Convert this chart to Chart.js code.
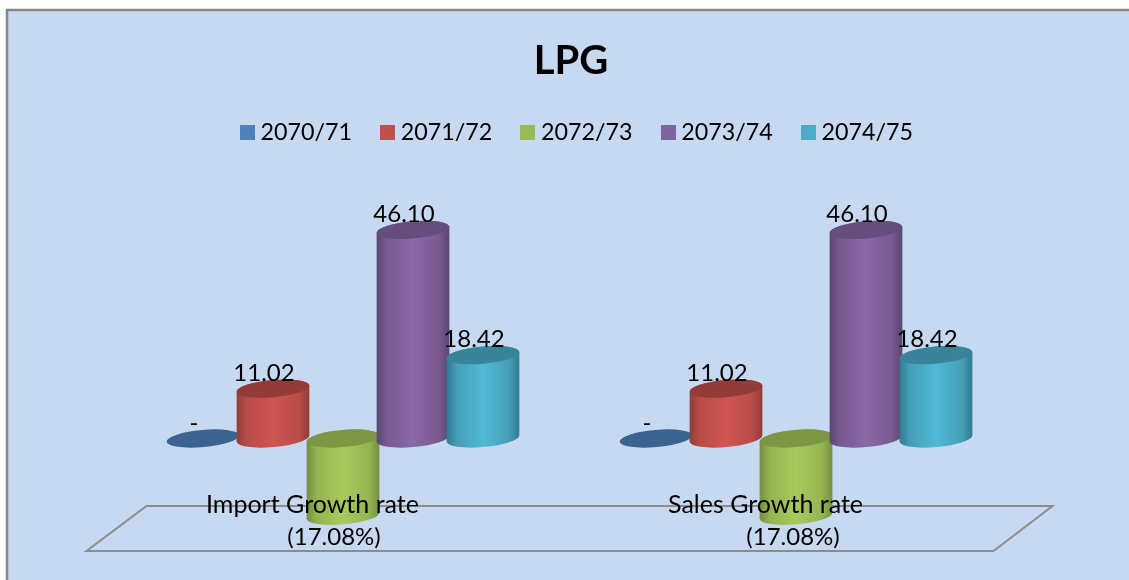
<!DOCTYPE html>
<html><head><meta charset="utf-8">
<style>html,body{margin:0;padding:0;background:#fff}canvas{display:block}</style>
<script src="https://cdn.jsdelivr.net/npm/chart.js@4"></script></head>
<body><canvas id="c" width="1129" height="580"></canvas>
<script>
const categories = ["Import Growth rate", "Sales Growth rate"];
const seriesNames = ["2070/71", "2071/72", "2072/73", "2073/74", "2074/75"];
const v2070 = [0, 0];
const v2071 = [11.02, 11.02];
const v2072 = [-17.08, -17.08];
const v2073 = [46.10, 46.10];
const v2074 = [18.42, 18.42];
const seriesValues = [v2070, v2071, v2072, v2073, v2074];
const legendColors = ["#4f81bd", "#c0504d", "#9bbb59", "#8064a2", "#4bacc6"];
const centerColors = ["#5a8fd0", "#d05551", "#a8ca5c", "#8a69aa", "#50bad6"];
const midColors    = ["#4c7bb0", "#b84c48", "#94b352", "#78598f", "#459eb6"];
const edgeColors   = ["#3b618e", "#8f3d3a", "#748d3e", "#5a4673", "#2f7a8e"];
const topColors    = ["#3b638f", "#933b38", "#7c9644", "#654d7e", "#3a8499"];
const negLabelShift = [-9, -3];
const FONT = "Lato, sans-serif";
const swatches = legendColors.map(col => {
  const s = document.createElement("canvas"); s.width = 15; s.height = 15;
  const g = s.getContext("2d"); g.fillStyle = col; g.fillRect(0, 0, 15, 15); return s;
});
const fmt = v => v === 0 ? "-" : v < 0 ? "(" + Math.abs(v).toFixed(2) + "%)" : v.toFixed(2);
const TILT = -5 * Math.PI / 180, RY = 8.6, WIDEN = 73 / 70;

function cylinder(ctx, cx, y0, y1, rx, i) {
  const up = Math.min(y0, y1), low = Math.max(y0, y1);
  if (low - up > 0.5) {
    const g = ctx.createLinearGradient(cx - rx, 0, cx + rx, 0);
    g.addColorStop(0, edgeColors[i]);
    g.addColorStop(0.14, midColors[i]);
    g.addColorStop(0.5, centerColors[i]);
    g.addColorStop(0.86, midColors[i]);
    g.addColorStop(1, edgeColors[i]);
    ctx.beginPath();
    ctx.ellipse(cx, low, rx, RY, TILT, 0, Math.PI, false);
    ctx.ellipse(cx, up, rx, RY, TILT, Math.PI, 0, false);
    ctx.closePath();
    ctx.fillStyle = g; ctx.fill();
  }
  ctx.beginPath();
  ctx.ellipse(cx, up, rx, RY, TILT, 0, Math.PI * 2);
  ctx.fillStyle = topColors[i]; ctx.fill();
}

const scene = {
  id: "scene",
  afterLayout(chart) {
    chart.legend.left += 10; chart.legend.right += 10;
    chart.titleBlock.left += 1.5; chart.titleBlock.right += 1.5;
  },
  beforeDraw(chart) {
    const ctx = chart.ctx;
    ctx.save();
    ctx.fillStyle = "#c6d9f1";
    ctx.fillRect(7, 10, 1122, 570);
    ctx.strokeStyle = "#868686"; ctx.lineWidth = 2.5;
    ctx.beginPath(); ctx.moveTo(7, 580); ctx.lineTo(7, 10); ctx.lineTo(1129, 10); ctx.stroke();
    ctx.restore();
  },
  beforeDatasetsDraw(chart) {
    const ctx = chart.ctx, a = chart.chartArea;
    ctx.save();
    ctx.strokeStyle = "#8c8c8c"; ctx.lineWidth = 2;
    ctx.beginPath();
    ctx.moveTo(a.left + 30, 506); ctx.lineTo(a.right + 30, 506);
    ctx.lineTo(a.right - 29, 551); ctx.lineTo(a.left - 30, 551);
    ctx.closePath(); ctx.stroke();
    chart.data.datasets.forEach((d, i) => {
      chart.getDatasetMeta(i).data.forEach(el => {
        cylinder(ctx, el.x, el.y, el.base, el.width * WIDEN / 2, i);
      });
    });
    ctx.restore();
    return false;
  },
  afterDraw(chart) {
    const ctx = chart.ctx, x = chart.scales.x;
    ctx.save();
    ctx.fillStyle = "#000"; ctx.textAlign = "center"; ctx.textBaseline = "middle";
    ctx.font = "24px " + FONT;
    chart.data.datasets.forEach((d, i) => {
      chart.getDatasetMeta(i).data.forEach((el, j) => {
        const v = d.data[j];
        const yy = v < 0 ? el.y + 21.5 : el.y - 15.5;
        ctx.fillText(fmt(v), el.x + (v < 0 ? negLabelShift[j] : -9), yy);
      });
    });
    ctx.font = "25px " + FONT;
    categories.forEach((c, j) => ctx.fillText(c, x.getPixelForTick(j) - 30.5, 505));
    ctx.restore();
  }
};

new Chart(document.getElementById("c"), {
  type: "bar",
  data: {
    labels: categories,
    datasets: seriesNames.map((n, i) => ({
      label: n, data: seriesValues[i], backgroundColor: legendColors[i],
      categoryPercentage: 0.7726, barPercentage: 1
    }))
  },
  options: {
    responsive: false, animation: false,
    layout: { padding: { left: 116.5, right: 106.5, top: 0, bottom: 51 } },
    plugins: {
      tooltip: { enabled: false },
      title: {
        display: true, text: "LPG", color: "#000",
        font: { family: FONT, size: 40, weight: "bold" },
        padding: { top: 37, bottom: 2 }
      },
      legend: {
        position: "top",
        labels: {
          color: "#000", font: { family: FONT, size: 23.3 },
          usePointStyle: true, pointStyleWidth: 3, padding: 34,
          generateLabels(chart) {
            return Chart.defaults.plugins.legend.labels.generateLabels(chart)
              .map((it, i) => Object.assign(it, { pointStyle: swatches[i] }));
          }
        }
      }
    },
    scales: {
      x: { display: false, grid: { display: false } },
      y: { display: false, min: -20, max: 62.8, grid: { display: false } }
    }
  },
  plugins: [scene]
});
</script></body></html>
